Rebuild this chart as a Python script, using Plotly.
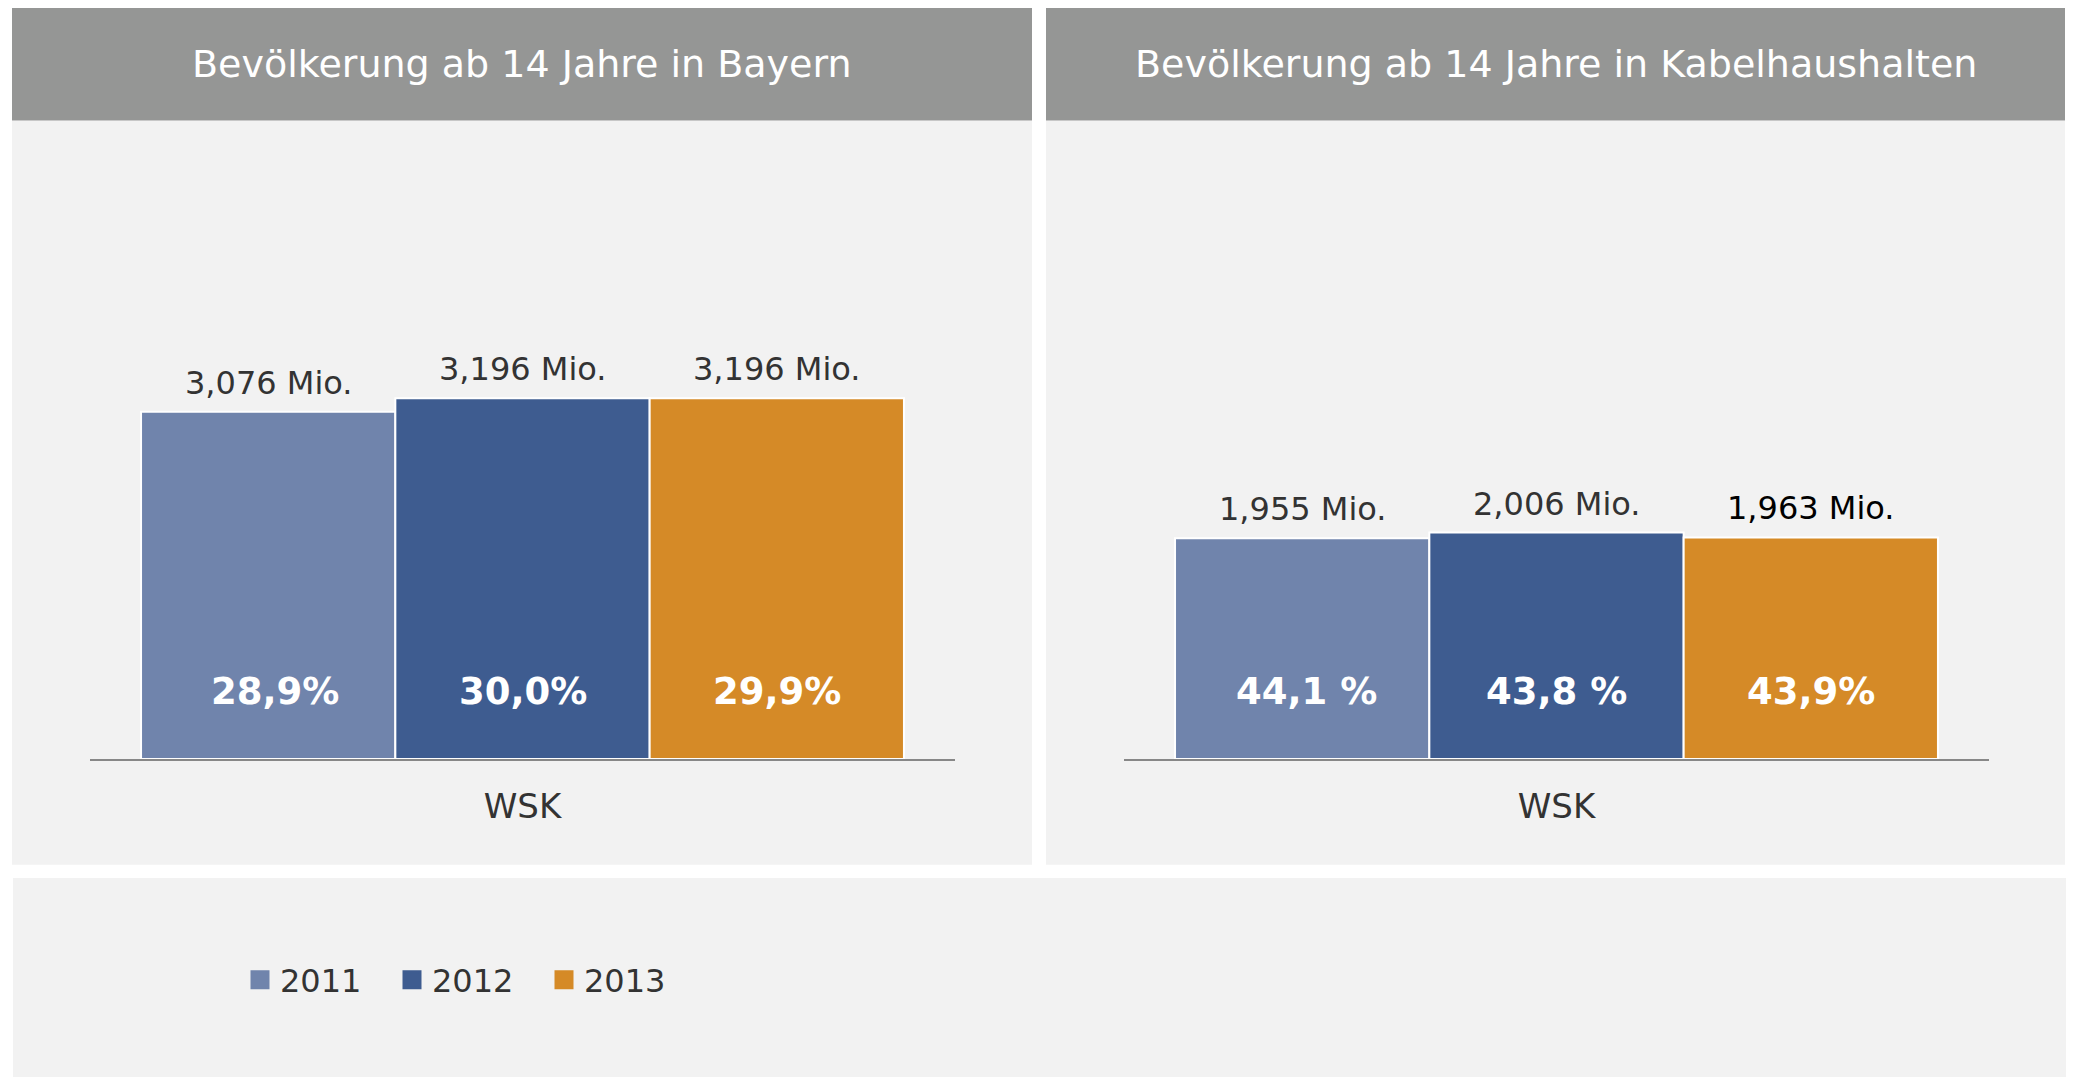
import plotly.graph_objects as go

# the page body has an 8px margin, so the figure is a bit smaller than the window
OFF = 8
W, H = 2074 - OFF, 1077 - OFF

years = ["2011", "2012", "2013"]
colors = ["#7084AC", "#3E5C90", "#D58A27"]
category = "WSK"

panel_titles = ["Bevölkerung ab 14 Jahre in Bayern",
                "Bevölkerung ab 14 Jahre in Kabelhaushalten"]

# Mio. persons per year
bayern_mio = [3.076, 3.196, 3.196]
kabel_mio = [1.955, 2.006, 1.963]

# share labels shown inside the bars
bayern_share = ["28,9%", "30,0%", "29,9%"]
kabel_share = ["44,1 %", "43,8 %", "43,9%"]

# label colours (last one in the Kabel panel is plain black in the original)
bayern_label_col = ["#333333", "#333333", "#333333"]
kabel_label_col = ["#333333", "#333333", "#000000"]


def px(x):
    return (x - OFF) / W


def py(y):
    return 1 - (y - OFF) / H


FONT = "DejaVu Sans"
bar_w = 0.294  # bars touch each other inside the group

fig = go.Figure()

# the first share label sits slightly right of its bar centre in the original
panels = [
    (bayern_mio, bayern_share, bayern_label_col, "x", "y", [7, 0, 0]),
    (kabel_mio, kabel_share, kabel_label_col, "x2", "y2", [4, 0, 0]),
]

annotations = []
for mio, share, lab_col, xa, ya, nudge in panels:
    xpos = [(i - 1) * bar_w for i in range(len(years))]
    for i, yr in enumerate(years):
        fig.add_trace(go.Bar(
            x=[xpos[i]], y=[mio[i]], width=bar_w, name=yr,
            marker=dict(color=colors[i], line=dict(color="white", width=2)),
            showlegend=False, xaxis=xa, yaxis=ya,
            hovertemplate=yr + ": %{y:.3f} Mio.<extra></extra>",
        ))
        annotations.append(dict(
            x=xpos[i], y=mio[i], xref=xa, yref=ya, yanchor="middle",
            yshift=29, showarrow=False,
            text=f"{mio[i]:.3f}".replace(".", ",") + " Mio.",
            font=dict(family=FONT, size=32, color=lab_col[i]),
        ))
        annotations.append(dict(
            x=xpos[i], y=0, xref=xa, yref=ya, yanchor="middle",
            yshift=68, xshift=nudge[i], showarrow=False, text=share[i],
            font=dict(family=FONT, size=37, color="white", weight="bold"),
        ))

# legend proxies (bigger squares than the bar legend symbol)
for yr, c in zip(years, colors):
    fig.add_trace(go.Scatter(
        x=[None], y=[None], mode="markers", name=yr,
        marker=dict(symbol="square", size=16, color=c, line=dict(color=c, width=3)),
        xaxis="x", yaxis="y", hoverinfo="skip",
    ))

# panel backgrounds and headers
shapes = []
for x0, x1 in [(12, 1032), (1046, 2065)]:
    shapes.append(dict(type="rect", xref="paper", yref="paper", layer="below",
                       x0=px(x0), x1=px(x1), y0=py(864.7), y1=py(120.5),
                       fillcolor="#F2F2F2", line=dict(width=0)))
    shapes.append(dict(type="rect", xref="paper", yref="paper", layer="below",
                       x0=px(x0), x1=px(x1), y0=py(120.5), y1=py(7),
                       fillcolor="#959695", line=dict(width=0)))
shapes.append(dict(type="rect", xref="paper", yref="paper", layer="below",
                   x0=px(13), x1=px(2068), y0=py(1077), y1=py(878),
                   fillcolor="#F2F2F2", line=dict(width=0)))

for title, cx in zip(panel_titles, [522, 1555.5]):
    annotations.append(dict(
        x=px(cx), y=py(64), xref="paper", yref="paper", showarrow=False,
        text=title, xanchor="center", yanchor="middle",
        font=dict(family=FONT, size=38, color="white"),
    ))

y_top = 130
y_base = 759
y_max = (y_base - y_top) / 112.9

xaxis_common = dict(
    range=[-0.5, 0.5], tickvals=[0], ticktext=[category], showgrid=False,
    zeroline=False, showline=True, linecolor="#878787", linewidth=2,
    ticks="", ticklabelstandoff=16,
    tickfont=dict(family=FONT, size=34, color="#333333"), fixedrange=True,
)
yaxis_common = dict(
    range=[0, y_max], visible=False, showgrid=False, zeroline=False,
    domain=[py(y_base), py(y_top)], fixedrange=True,
)

fig.update_layout(
    width=W, height=H,
    margin=dict(l=0, r=0, t=0, b=0),
    paper_bgcolor="white", plot_bgcolor="rgba(0,0,0,0)",
    font=dict(family=FONT, color="#333333"),
    barmode="overlay",
    xaxis=dict(domain=[px(90), px(955)], anchor="y", **xaxis_common),
    xaxis2=dict(domain=[px(1124), px(1989)], anchor="y2", **xaxis_common),
    yaxis=dict(anchor="x", **yaxis_common),
    yaxis2=dict(anchor="x2", **yaxis_common),
    shapes=shapes,
    annotations=annotations,
    showlegend=True,
    legend=dict(
        orientation="h", x=px(240), y=py(980), xanchor="left", yanchor="middle",
        bgcolor="rgba(0,0,0,0)", font=dict(family=FONT, size=32, color="#333333"),
        itemsizing="trace", entrywidth=107, entrywidthmode="pixels",
    ),
)

fig.write_html("out.html")
